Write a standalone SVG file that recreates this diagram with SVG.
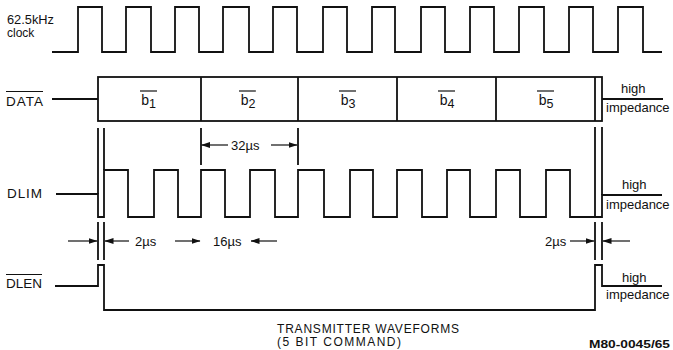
<svg xmlns="http://www.w3.org/2000/svg" width="673" height="350" viewBox="0 0 673 350">
<style>
.w{fill:none;stroke:#111;stroke-width:1.8;stroke-linejoin:miter}
.t{font-family:"Liberation Sans",Arial,sans-serif;fill:#111}
.lab{font-size:13.5px}
.s{font-size:13px}
.c{font-size:12px}
.a{fill:none;stroke:#111;stroke-width:1.2}
</style>
<defs>
<marker id="ah" markerWidth="9" markerHeight="6" refX="8.5" refY="3" orient="auto" markerUnits="userSpaceOnUse">
<path d="M0,0 L9,3 L0,6 z" fill="#111"/>
</marker>
</defs>
<rect width="673" height="350" fill="#fff"/>

<g id="clock">
<text class="t c" x="7" y="24" textLength="47" lengthAdjust="spacingAndGlyphs">62.5kHz</text>
<text class="t c" x="7" y="37">clock</text>
<path class="w" d="M52,52 H78 V7 H102 V52 H126 V7 H151 V52 H175 V7 H199 V52 H223 V7 H249 V52 H273 V7 H297 V52 H323 V7 H347 V52 H372 V7 H395 V52 H421 V7 H445 V52 H470 V7 H494 V52 H519 V7 H544 V52 H569 V7 H593 V52 H618 V7 H643 V52 H662"/>
</g>

<g id="data">
<text class="t lab" x="6" y="106" textLength="37">DATA</text>
<line class="a" x1="6" y1="91.5" x2="43" y2="91.5"/>
<path class="w" d="M52,99 H98"/>
<rect class="w" x="98" y="77" width="504" height="44"/>
<path class="w" d="M201,77 V121 M298,77 V121 M397,77 V121 M496,77 V121 M595,77 V121"/>
<path class="w" d="M602,99 H663"/>
<text class="t s" x="621" y="93">high</text>
<text class="t s" x="606" y="112">impedance</text>
</g>

<g id="bits">
<text class="t" font-size="14" x="148.5" y="105" text-anchor="middle">b<tspan font-size="12.5" dy="3">1</tspan></text>
<line class="a" x1="140" y1="91" x2="157" y2="91"/>
<text class="t" font-size="14" x="248" y="105" text-anchor="middle">b<tspan font-size="12.5" dy="3">2</tspan></text>
<line class="a" x1="239" y1="91" x2="256" y2="91"/>
<text class="t" font-size="14" x="348" y="105" text-anchor="middle">b<tspan font-size="12.5" dy="3">3</tspan></text>
<line class="a" x1="339" y1="91" x2="356" y2="91"/>
<text class="t" font-size="14" x="447" y="105" text-anchor="middle">b<tspan font-size="12.5" dy="3">4</tspan></text>
<line class="a" x1="438" y1="91" x2="455" y2="91"/>
<text class="t" font-size="14" x="546" y="105" text-anchor="middle">b<tspan font-size="12.5" dy="3">5</tspan></text>
<line class="a" x1="537" y1="91" x2="554" y2="91"/>
</g>

<g id="dlim">
<text class="t lab" x="7" y="198" textLength="35">DLIM</text>
<path class="w" d="M56,194 H98 V217 H104 V170 H128 V217 H154 V170 H178 V217 H201 V170 H225 V217 H250 V170 H275 V217 H298 V170 H324 V217 H350 V170 H373 V217 H397 V170 H422 V217 H447 V170 H470 V217 H496 V170 H520 V217 H546 V170 H570 V217 H602 V195 H662"/>
<text class="t s" x="622" y="189">high</text>
<text class="t s" x="606" y="209">impedance</text>
</g>

<g id="dlen">
<text class="t lab" x="6" y="288" textLength="36">DLEN</text>
<line class="a" x1="6" y1="274.5" x2="42" y2="274.5"/>
<path class="w" d="M55,286 H98 V265 H104 V310 H595 V265 H602 V286 H662"/>
<text class="t s" x="622" y="282">high</text>
<text class="t s" x="606" y="299">impedance</text>
</g>

<g id="connectors">
<path class="w" d="M98,128 V194 M104,128 V170 M201,128 V165 M298,128 V165 M595,127 V217 M602,127 V195"/>
<path class="w" d="M98,222 V260 M104,222 V260 M595,222 V260 M602,222 V260"/>
<line class="a" x1="228" y1="145" x2="201.5" y2="145" marker-end="url(#ah)"/>
<line class="a" x1="271" y1="145" x2="297" y2="145" marker-end="url(#ah)"/>
<text class="t s" x="231" y="150">32µs</text>
<line class="a" x1="68" y1="241" x2="97" y2="241" marker-end="url(#ah)"/>
<line class="a" x1="129" y1="241" x2="105" y2="241" marker-end="url(#ah)"/>
<text class="t s" x="135" y="246">2µs</text>
<line class="a" x1="175" y1="241" x2="200" y2="241" marker-end="url(#ah)"/>
<line class="a" x1="277" y1="241" x2="251" y2="241" marker-end="url(#ah)"/>
<text class="t s" x="213" y="246">16µs</text>
<line class="a" x1="570" y1="241" x2="594" y2="241" marker-end="url(#ah)"/>
<line class="a" x1="630" y1="241" x2="603" y2="241" marker-end="url(#ah)"/>
<text class="t s" x="545" y="246">2µs</text>
</g>

<g id="caption">
<text class="t c" x="277" y="333" textLength="182">TRANSMITTER WAVEFORMS</text>
<text class="t c" x="277" y="346" textLength="124">(5 BIT COMMAND)</text>
<text class="t" font-size="10" font-weight="bold" x="589" y="348" textLength="81" lengthAdjust="spacingAndGlyphs">M80-0045/65</text>
</g>
</svg>
